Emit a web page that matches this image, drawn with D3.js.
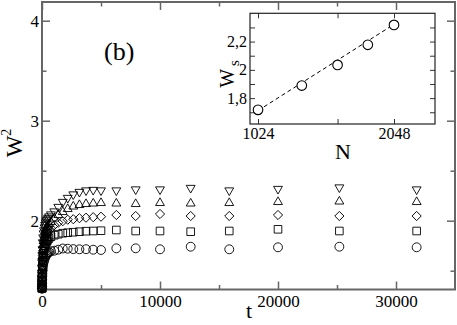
<!DOCTYPE html>
<html>
<head>
<meta charset="utf-8">
<script src="https://cdn.jsdelivr.net/npm/d3@7"></script>
<style>
  body { margin: 0; background: #fff; }
  svg { display: block; }
  svg text { font-family: 'Liberation Serif', 'Times New Roman', serif; }
</style>
</head>
<body>
<div id="chart"></div>
<script>
// time steps and W^2 for the five system sizes
var times = [1, 2, 4, 7, 12, 20, 30, 45, 70, 100, 135, 170, 220, 265, 320, 390, 450, 515, 600, 760,
             1040, 1380, 1760, 2180, 2650, 3170, 3730, 4340, 5000, 6300, 7940, 10000, 12600, 15870,
             20000, 25200, 31750];

var wCircle = [1.32, 1.335, 1.355, 1.38, 1.41, 1.44, 1.47, 1.50, 1.53, 1.56, 1.585, 1.60, 1.62, 1.635,
               1.65, 1.66, 1.67, 1.68, 1.685, 1.695, 1.70, 1.71, 1.722, 1.72, 1.716, 1.714, 1.715, 1.71,
               1.707, 1.724, 1.724, 1.714, 1.74, 1.714, 1.734, 1.74, 1.734];
var wSquare = [1.32, 1.34, 1.365, 1.395, 1.43, 1.47, 1.51, 1.55, 1.60, 1.64, 1.675, 1.70, 1.73, 1.75,
               1.77, 1.79, 1.80, 1.815, 1.825, 1.84, 1.855, 1.865, 1.875, 1.88, 1.885, 1.89, 1.895, 1.897,
               1.90, 1.907, 1.897, 1.897, 1.89, 1.897, 1.914, 1.897, 1.897];
var wDiamond = [1.32, 1.345, 1.375, 1.41, 1.45, 1.50, 1.55, 1.60, 1.65, 1.70, 1.74, 1.77, 1.80, 1.82,
                1.84, 1.86, 1.875, 1.89, 1.905, 1.925, 1.955, 1.98, 1.995, 2.01, 2.015, 2.025, 2.03, 2.035,
                2.04, 2.057, 2.047, 2.067, 2.047, 2.047, 2.057, 2.047, 2.047];
var wTriUp = [1.33, 1.355, 1.39, 1.43, 1.48, 1.54, 1.60, 1.66, 1.72, 1.77, 1.81, 1.84, 1.87, 1.895,
              1.915, 1.935, 1.95, 1.965, 1.98, 2.00, 2.035, 2.07, 2.10, 2.13, 2.155, 2.17, 2.18, 2.185,
              2.19, 2.185, 2.18, 2.19, 2.185, 2.19, 2.20, 2.205, 2.20];
var wTriDown = [1.33, 1.36, 1.40, 1.45, 1.51, 1.58, 1.64, 1.70, 1.77, 1.82, 1.86, 1.89, 1.92, 1.945,
                1.97, 1.99, 2.0, 2.015, 2.03, 2.05, 2.08, 2.125, 2.175, 2.215, 2.25, 2.275, 2.29, 2.295,
                2.29, 2.29, 2.30, 2.30, 2.315, 2.29, 2.305, 2.32, 2.30];

// inset: saturation width vs N
var insetN = [1024, 1280, 1536, 1792, 2048];
var insetW = [1.717, 1.889, 2.035, 2.177, 2.318];
var fitN = [1024, 2048];
var fitW = [1.712, 2.322];

// ticks
var xMajor = [0, 10000, 20000, 30000], xMinor = [5000, 15000, 25000];
var yMajor = [2, 3, 4], yMinor = [1.5, 2.5, 3.5];
var nMajor = [1024, 2048], nMinor = [1536];
var wsMajor = [1.8, 2.0, 2.2], wsMinor = [1.7, 1.9, 2.1, 2.3];

var serif = "'Liberation Serif', 'Times New Roman', serif";
var axisGrey = "#666";

var margin = {top: 2, right: 2, bottom: 35.5, left: 42},
    width = 457 - margin.left - margin.right,
    height = 325 - margin.top - margin.bottom;

var svg = d3.select("#chart").append("svg")
    .attr("width", 457)
    .attr("height", 325)
    .append("g")
    .attr("transform", "translate(" + margin.left + "," + margin.top + ")");

// scales
var x = d3.scaleLinear().domain([0, 35000]).range([0, width]);
var y = d3.scaleLinear().domain([1.312, 4.187]).range([height, 0]);

// helper to style an axis group
function styleAxis(g, color, size) {
    g.attr("font-family", null).attr("font-size", null);
    g.select(".domain").remove();
    g.selectAll(".tick line").attr("stroke", color).attr("stroke-width", 1.5);
    g.selectAll(".tick text").attr("fill", "#000")
        .style("font-family", serif).style("font-size", size + "px");
}

// main axes, ticks pointing inwards
svg.append("g")
    .attr("transform", "translate(0," + height + ")")
    .call(d3.axisBottom(x).tickValues(xMajor).tickSize(-8).tickPadding(5).tickFormat(d3.format("d")))
    .call(styleAxis, axisGrey, 17);
svg.append("g")
    .attr("transform", "translate(0," + height + ")")
    .call(d3.axisBottom(x).tickValues(xMinor).tickSize(-4.5).tickFormat(""))
    .call(styleAxis, axisGrey, 17);
svg.append("g")
    .call(d3.axisTop(x).tickValues(xMajor).tickSize(-8).tickFormat(""))
    .call(styleAxis, axisGrey, 17);
svg.append("g")
    .call(d3.axisTop(x).tickValues(xMinor).tickSize(-4.5).tickFormat(""))
    .call(styleAxis, axisGrey, 17);

svg.append("g")
    .call(d3.axisLeft(y).tickValues(yMajor).tickSize(-8).tickPadding(3).tickFormat(d3.format("d")))
    .call(styleAxis, axisGrey, 17);
svg.append("g")
    .call(d3.axisLeft(y).tickValues(yMinor).tickSize(-4.5).tickFormat(""))
    .call(styleAxis, axisGrey, 17);
svg.append("g")
    .attr("transform", "translate(" + width + ",0)")
    .call(d3.axisRight(y).tickValues(yMajor).tickSize(-8).tickFormat(""))
    .call(styleAxis, axisGrey, 17);
svg.append("g")
    .attr("transform", "translate(" + width + ",0)")
    .call(d3.axisRight(y).tickValues(yMinor).tickSize(-4.5).tickFormat(""))
    .call(styleAxis, axisGrey, 17);

// frame
svg.append("rect")
    .attr("width", width)
    .attr("height", height)
    .attr("fill", "none")
    .attr("stroke", axisGrey)
    .attr("stroke-width", 2);

// triangle centred on its bounding box (like xmgrace), up or down
function boxTriangle(dir) {
    return {
        draw: function(context, size) {
            var s = Math.sqrt(size * 4 / Math.sqrt(3)), h = s * Math.sqrt(3) / 2;
            context.moveTo(0, -dir * h / 2);
            context.lineTo(s / 2, dir * h / 2);
            context.lineTo(-s / 2, dir * h / 2);
            context.closePath();
        }
    };
}

// the five series
var series = [
    {values: wCircle, type: d3.symbolCircle, size: 62, rot: 0},
    {values: wSquare, type: d3.symbolSquare, size: 58, rot: 0},
    {values: wDiamond, type: d3.symbolSquare, size: 42, rot: 45},
    {values: wTriUp, type: boxTriangle(1), size: 34, rot: 0},
    {values: wTriDown, type: boxTriangle(-1), size: 34, rot: 0}
];

series.forEach(function(s) {
    var sym = d3.symbol().type(s.type).size(s.size);
    svg.selectAll(null)
        .data(times.map(function(t, i) { return {t: t, w: s.values[i]}; }))
        .enter().append("path")
        .attr("d", sym)
        .attr("transform", function(d) {
            return "translate(" + x(d.t) + "," + y(d.w) + ") rotate(" + s.rot + ")";
        })
        .attr("fill", "none")
        .attr("stroke", "#000")
        .attr("stroke-width", 0.9);
});

// axis labels
svg.append("text")
    .attr("x", width / 2 + 0.5)
    .attr("y", 318 - margin.top)
    .attr("text-anchor", "middle")
    .attr("font-size", 22)
    .text("t");

var wLab = svg.append("text")
    .attr("transform", "translate(" + (22 - margin.left) + "," + (143 - margin.top) + ") rotate(-90)")
    .attr("text-anchor", "middle")
    .attr("font-size", 23);
wLab.append("tspan").text("W");
wLab.append("tspan").attr("font-size", 14).attr("dy", -11).text("2");

svg.append("text")
    .attr("x", 104 - margin.left)
    .attr("y", 60 - margin.top)
    .attr("font-size", 26)
    .text("(b)");

// ---- inset ----
var inset = d3.select("#chart svg").append("g");
var xN = d3.scaleLog().base(2).domain([983, 2524]).range([250, 435]);
var yN = d3.scaleLinear().domain([1.617, 2.4]).range([124, 13.3]);

inset.append("rect")
    .attr("x", 250).attr("y", 13.3)
    .attr("width", 185).attr("height", 110.7)
    .attr("fill", "#fff");

function wsFormat(d) { return d === 2 ? "2" : d3.format(".1f")(d).replace(".", ","); }

inset.append("g")
    .attr("transform", "translate(0,124)")
    .call(d3.axisBottom(xN).tickValues(nMajor).tickSize(-5).tickPadding(4).tickFormat(d3.format("d")))
    .call(styleAxis, "#333", 16);
inset.append("g")
    .attr("transform", "translate(0,124)")
    .call(d3.axisBottom(xN).tickValues(nMinor).tickSize(-5).tickFormat(""))
    .call(styleAxis, "#333", 16);
inset.append("g")
    .attr("transform", "translate(0,13.3)")
    .call(d3.axisTop(xN).tickValues(nMajor.concat(nMinor)).tickSize(-5).tickFormat(""))
    .call(styleAxis, "#333", 16);
inset.append("g")
    .attr("transform", "translate(250,0)")
    .call(d3.axisLeft(yN).tickValues(wsMajor).tickSize(-5).tickPadding(3).tickFormat(wsFormat))
    .call(styleAxis, "#333", 16);
inset.append("g")
    .attr("transform", "translate(250,0)")
    .call(d3.axisLeft(yN).tickValues(wsMinor).tickSize(-5).tickFormat(""))
    .call(styleAxis, "#333", 16);
inset.append("g")
    .attr("transform", "translate(435,0)")
    .call(d3.axisRight(yN).tickValues(wsMajor.concat(wsMinor)).tickSize(-5).tickFormat(""))
    .call(styleAxis, "#333", 16);

inset.selectAll(".tick line").attr("stroke-width", 1);

inset.append("rect")
    .attr("x", 250).attr("y", 13.3)
    .attr("width", 185).attr("height", 110.7)
    .attr("fill", "none")
    .attr("stroke", "#222")
    .attr("stroke-width", 1.2);

// dashed fit line
inset.append("path")
    .datum(fitN.map(function(n, i) { return [n, fitW[i]]; }))
    .attr("d", d3.line().x(function(d) { return xN(d[0]); }).y(function(d) { return yN(d[1]); }))
    .attr("fill", "none")
    .attr("stroke", "#000")
    .attr("stroke-width", 1)
    .attr("stroke-dasharray", "4,3");

inset.selectAll("circle")
    .data(insetN)
    .enter().append("circle")
    .attr("cx", function(d) { return xN(d); })
    .attr("cy", function(d, i) { return yN(insetW[i]); })
    .attr("r", 4.8)
    .attr("fill", "#fff")
    .attr("stroke", "#000")
    .attr("stroke-width", 1.1);

inset.append("text")
    .attr("x", 343)
    .attr("y", 159)
    .attr("text-anchor", "middle")
    .attr("font-size", 22)
    .text("N");

var wsLab = inset.append("text")
    .attr("transform", "translate(234,74) rotate(-90)")
    .attr("text-anchor", "middle")
    .attr("font-size", 20);
wsLab.append("tspan").text("W");
wsLab.append("tspan").attr("font-size", 15).attr("dx", 3).attr("dy", 5).text("s");
</script>
</body>
</html>
